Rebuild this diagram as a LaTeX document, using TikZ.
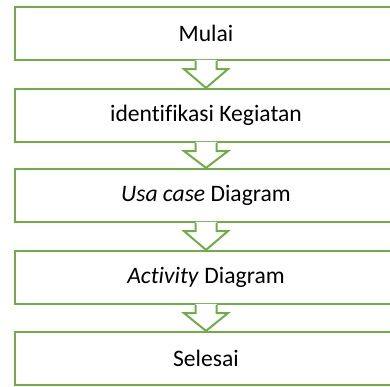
\documentclass[tikz,border=0pt]{standalone}
\usepackage{fontspec}
\setmainfont[Ligatures=NoCommon]{Carlito}
\usetikzlibrary{calc}
\definecolor{leafgreen}{HTML}{70AD47}
\begin{document}
\begin{tikzpicture}[x=1bp,y=1bp,
  stepbox/.style={draw=leafgreen, line width=2.2bp, fill=white,
    minimum width=382bp, minimum height=53bp, inner sep=0pt,
    font=\fontsize{23.6bp}{28bp}\selectfont},
  blockarrow/.style={draw=leafgreen, line width=2bp, line join=miter}]
  \useasboundingbox (0,0) rectangle (390,387);
  \clip (0,0) rectangle (390,387);
  % process steps, top to bottom
  \node[stepbox] (s1) at (206,353.5) {Mulai};
  \node[stepbox] (s2) at (206,271.5) {identifikasi Kegiatan};
  \node[stepbox] (s3) at (206,191.5) {\textit{Usa case} Diagram};
  \node[stepbox] (s4) at (206,109.5) {\textit{Activity} Diagram};
  \node[stepbox] (s5) at (206,28.5)  {Selesai};
  % hollow block arrows joining consecutive steps
  \foreach \a/\b in {s1/s2,s2/s3,s3/s4,s4/s5}{
    \fill[white] ($(\a.south)+(-10.5,1.2)$) -- ($(\a.south)+(-10.5,-8)$)
      -- ($(\a.south)+(-22,-8)$) -- (\b.north) -- ($(\a.south)+(22,-8)$)
      -- ($(\a.south)+(10.5,-8)$) -- ($(\a.south)+(10.5,1.2)$) -- cycle;
    \draw[blockarrow] ($(\a.south)+(-10.5,0)$) -- ($(\a.south)+(-10.5,-8)$)
      -- ($(\a.south)+(-22,-8)$) -- (\b.north) -- ($(\a.south)+(22,-8)$)
      -- ($(\a.south)+(10.5,-8)$) -- ($(\a.south)+(10.5,0)$);
  }
\end{tikzpicture}
\end{document}
